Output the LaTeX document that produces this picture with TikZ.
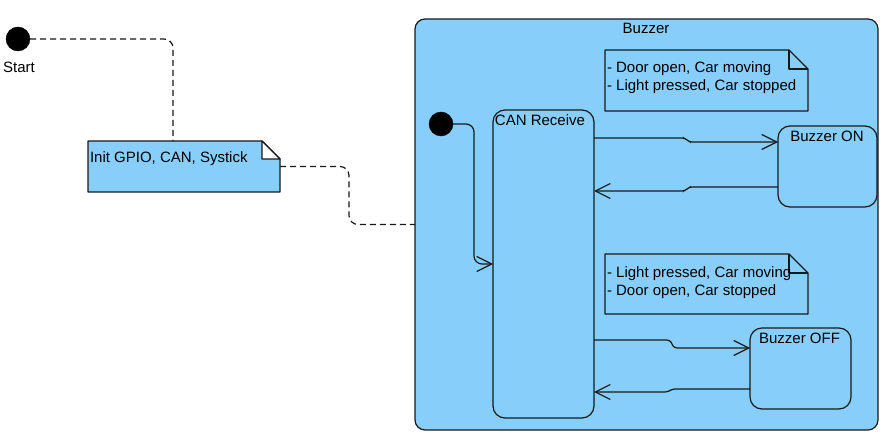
\documentclass[tikz,border=0pt]{standalone}
\usepackage{fontspec}
\setmainfont{Liberation Sans}
\usetikzlibrary{arrows.meta}
\definecolor{skyfill}{RGB}{135,206,250}
\definecolor{lineclr}{RGB}{25,25,25}
\begin{document}
\begin{tikzpicture}[x=1pt,y=-1pt,
  font=\fontsize{15}{18}\selectfont,
  every node/.style={inner sep=0pt, outer sep=0pt},
  lbl/.style={anchor=base, text=black},
  lblw/.style={anchor=base west, text=black},
  dot/.style={circle, fill=black, draw=black, minimum size=24pt},
  holder/.style={rectangle, draw=none, fill=none},
  outline/.style={draw=lineclr, line width=1.2pt, line join=round},
  statebox/.style={rectangle, rounded corners=12pt, draw=lineclr, line width=1.2pt, fill=skyfill},
  container/.style={rectangle, rounded corners=10pt, draw=lineclr, line width=1.2pt, fill=skyfill},
  dashconn/.style={draw=lineclr, line width=1.2pt, dash pattern=on 6pt off 4pt, rounded corners=9pt},
  trans/.style={draw=lineclr, line width=1.2pt, -{Straight Barb[length=15pt,width=15pt,line width=1.2pt]}},
]
\useasboundingbox (0,0) rectangle (893,438);

% container
\node[container, minimum width=463pt, minimum height=411pt] (buz) at (646.5,224.5) {};
\node[lbl] (buzlbl) at (646,34) {Buzzer};

% start
\node[dot] (start) at (18,39) {};
\node[lbl] (startlbl) at (19,73) {Start};

% init note
\node[holder, minimum width=192pt, minimum height=51pt] (init) at (184,166.5) {};
\draw[outline, fill=skyfill] (init.north west) -- ([xshift=-18pt]init.north east)
  -- ([yshift=-18pt]init.north east) -- (init.south east) -- (init.south west) -- cycle;
\draw[outline, fill=white] ([xshift=-18pt]init.north east) -- ([yshift=-18pt]init.north east)
  -- ([xshift=-18pt,yshift=-18pt]init.north east) -- cycle;
\node[lblw] (inittxt) at (90,163) {Init GPIO, CAN, Systick};

% dashed connectors
\draw[dashconn] (start.east) -| ([xshift=-11pt]init.north);
\draw[dashconn] (init.east) -- ++(69,0) |- (buz.west);

% inner initial
\node[dot] (ii) at (441,124) {};

% CAN Receive
\node[statebox, minimum width=101pt, minimum height=308pt] (can) at (543.5,264) {};
\node[lbl] (canlbl) at (540,126) {CAN Receive};

% Buzzer ON / OFF
\node[statebox, minimum width=99pt, minimum height=81pt] (on) at (827.5,166.5) {};
\node[lbl] (onlbl) at (827,142) {Buzzer ON};
\node[statebox, minimum width=101pt, minimum height=81pt] (off) at (800.5,368.5) {};
\node[lbl] (offlbl) at (799.5,343) {Buzzer OFF};

% notes
\node[holder, minimum width=203pt, minimum height=61pt] (n1) at (706.5,80.5) {};
\draw[outline] (n1.north west) -- ([xshift=-19pt]n1.north east)
  -- ([yshift=-19pt]n1.north east) -- (n1.south east) -- (n1.south west) -- cycle;
\draw[outline] ([xshift=-19pt]n1.north east) -- ([xshift=-19pt,yshift=-19pt]n1.north east)
  -- ([yshift=-19pt]n1.north east);
\node[lblw] (n1a) at (607,73) {- Door open, Car moving};
\node[lblw] (n1b) at (607,91) {- Light pressed, Car stopped};

\node[holder, minimum width=203pt, minimum height=60pt] (n2) at (706.5,284) {};
\draw[outline] (n2.north west) -- ([xshift=-19pt]n2.north east)
  -- ([yshift=-19pt]n2.north east) -- (n2.south east) -- (n2.south west) -- cycle;
\draw[outline] ([xshift=-19pt]n2.north east) -- ([xshift=-19pt,yshift=-19pt]n2.north east)
  -- ([yshift=-19pt]n2.north east);
\node[lblw] (n2a) at (607,277) {- Light pressed, Car moving};
\node[lblw] (n2b) at (607,295) {- Door open, Car stopped};

% transitions
\draw[trans, rounded corners=8pt] (ii.east) -| ([xshift=-19pt]can.west) -- (can.west);
\draw[trans, rounded corners=3pt] (can.east |- 0,138) -- (685,138) -- (689,142) -- (on.west |- 0,142);
\draw[trans, rounded corners=3pt] (on.west |- 0,187) -- (689,187) -- (685,191) -- (can.east |- 0,191);
\draw[trans, rounded corners=3pt] (can.east |- 0,340) -- (670,340) -- (674,348) -- (off.west |- 0,348);
\draw[trans, rounded corners=3pt] (off.west |- 0,389) -- (672,389) -- (668,392) -- (can.east |- 0,392);
\end{tikzpicture}
\end{document}
